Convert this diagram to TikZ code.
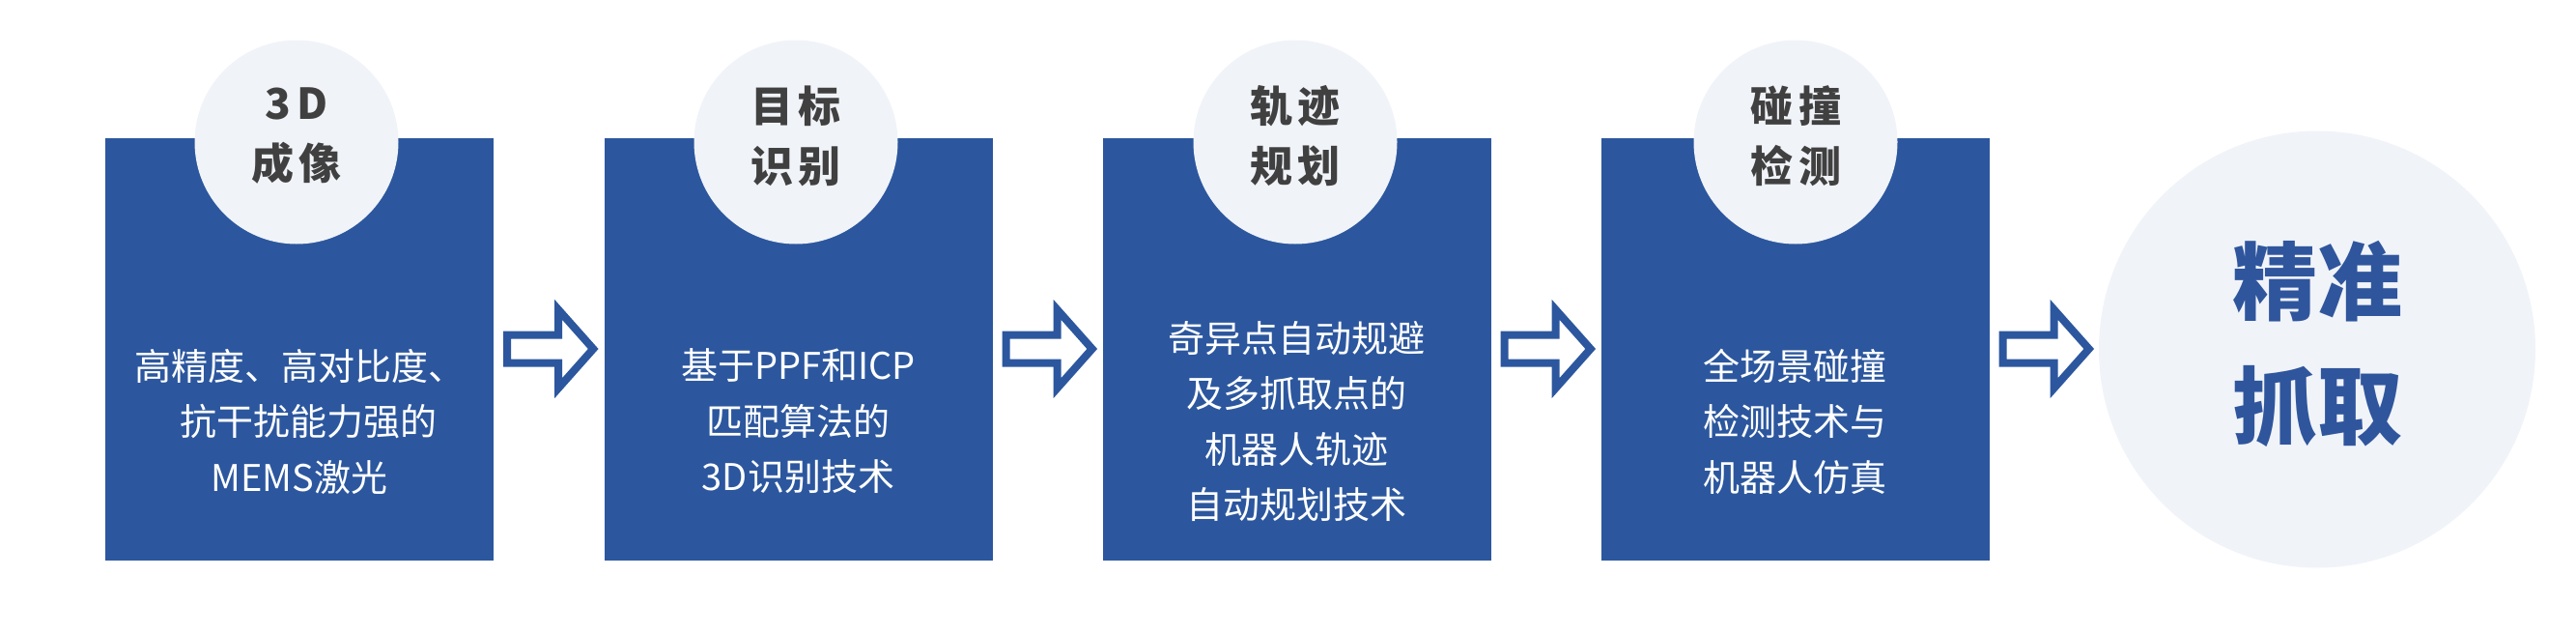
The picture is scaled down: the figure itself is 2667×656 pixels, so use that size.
\documentclass[tikz,border=0pt]{standalone}
\usepackage{fontspec}
\newfontfamily\cjk{Noto Sans CJK SC}
\definecolor{boxblue}{HTML}{2C579E}
\definecolor{circfill}{HTML}{F0F3F8}
\definecolor{titlegray}{HTML}{404040}
\definecolor{finalblue}{HTML}{2F559D}
\newcommand\tk{\kern6pt}
\tikzset{
  stepbox/.style={rectangle, fill=boxblue, draw=none, minimum width=402pt, minimum height=437pt, inner sep=0pt},
  badge/.style={circle, fill=circfill, draw=none, minimum size=211pt, inner sep=0pt},
  badgetext/.style={align=center, text=titlegray, font=\cjk\bfseries\fontsize{44}{62}\selectfont, inner sep=0pt},
  bodytext/.style={align=center, text=white, font=\cjk\fontsize{38}{57.5}\selectfont, inner sep=0pt},
  goal/.style={circle, fill=circfill, draw=none, minimum size=452pt, inner sep=0pt},
  goaltext/.style={align=center, text=finalblue, font=\cjk\bfseries\fontsize{88}{129}\selectfont, inner sep=0pt},
  arrowline/.style={draw=boxblue, fill=white, line width=8pt, line join=miter}
}
\newcommand\flowarrow[1]{%
  \begin{scope}[shift={(#1.east)}]
    \draw[arrowline] (14,-15) -- (67,-15) -- (67,-41) -- (103,-0.5) -- (67,40) -- (67,14) -- (14,14) -- cycle;
  \end{scope}}
\begin{document}
\begin{tikzpicture}[x=1pt,y=-1pt]
\useasboundingbox (0,0) rectangle (2667,656);
% boxes
\node[stepbox] (b1) at (310,361.5) {};
\node[stepbox] (b2) at (826.5,361.5) {};
\node[stepbox] (b3) at (1342.5,361.5) {};
\node[stepbox] (b4) at (1858.5,361.5) {};
% badges
\node[badge] (c1) at (307,147) {};
\node[badge] (c2) at (824,147) {};
\node[badge] (c3) at (1341,147) {};
\node[badge] (c4) at (1859,147) {};
\node[badgetext] (h1) at (307,141) {3\tk D\\成\tk 像};
\node[badgetext] (h2) at (824,141) {目\tk 标\\识\tk 别};
\node[badgetext] (h3) at (1341,141) {轨\tk 迹\\规\tk 划};
\node[badgetext] (h4) at (1859,141) {碰\tk 撞\\检\tk 测};
% body texts
\node[bodytext] (t1) at (310,436) {高精度、高对比度、\\\hspace*{18pt}抗干扰能力强的\\MEMS激光};
\node[bodytext] (t2) at (826.5,436) {基于PPF和ICP\\匹配算法的\\3D识别技术};
\node[bodytext] (t3) at (1342.5,436) {奇异点自动规避\\及多抓取点的\\机器人轨迹\\自动规划技术};
\node[bodytext] (t4) at (1858.5,436) {全场景碰撞\\检测技术与\\机器人仿真};
% goal
\node[goal] (g) at (2399,361.5) {};
\node[goaltext] (gt) at (2399,356) {精准\\抓取};
% arrows
\flowarrow{b1}
\flowarrow{b2}
\flowarrow{b3}
\flowarrow{b4}
\end{tikzpicture}
\end{document}
